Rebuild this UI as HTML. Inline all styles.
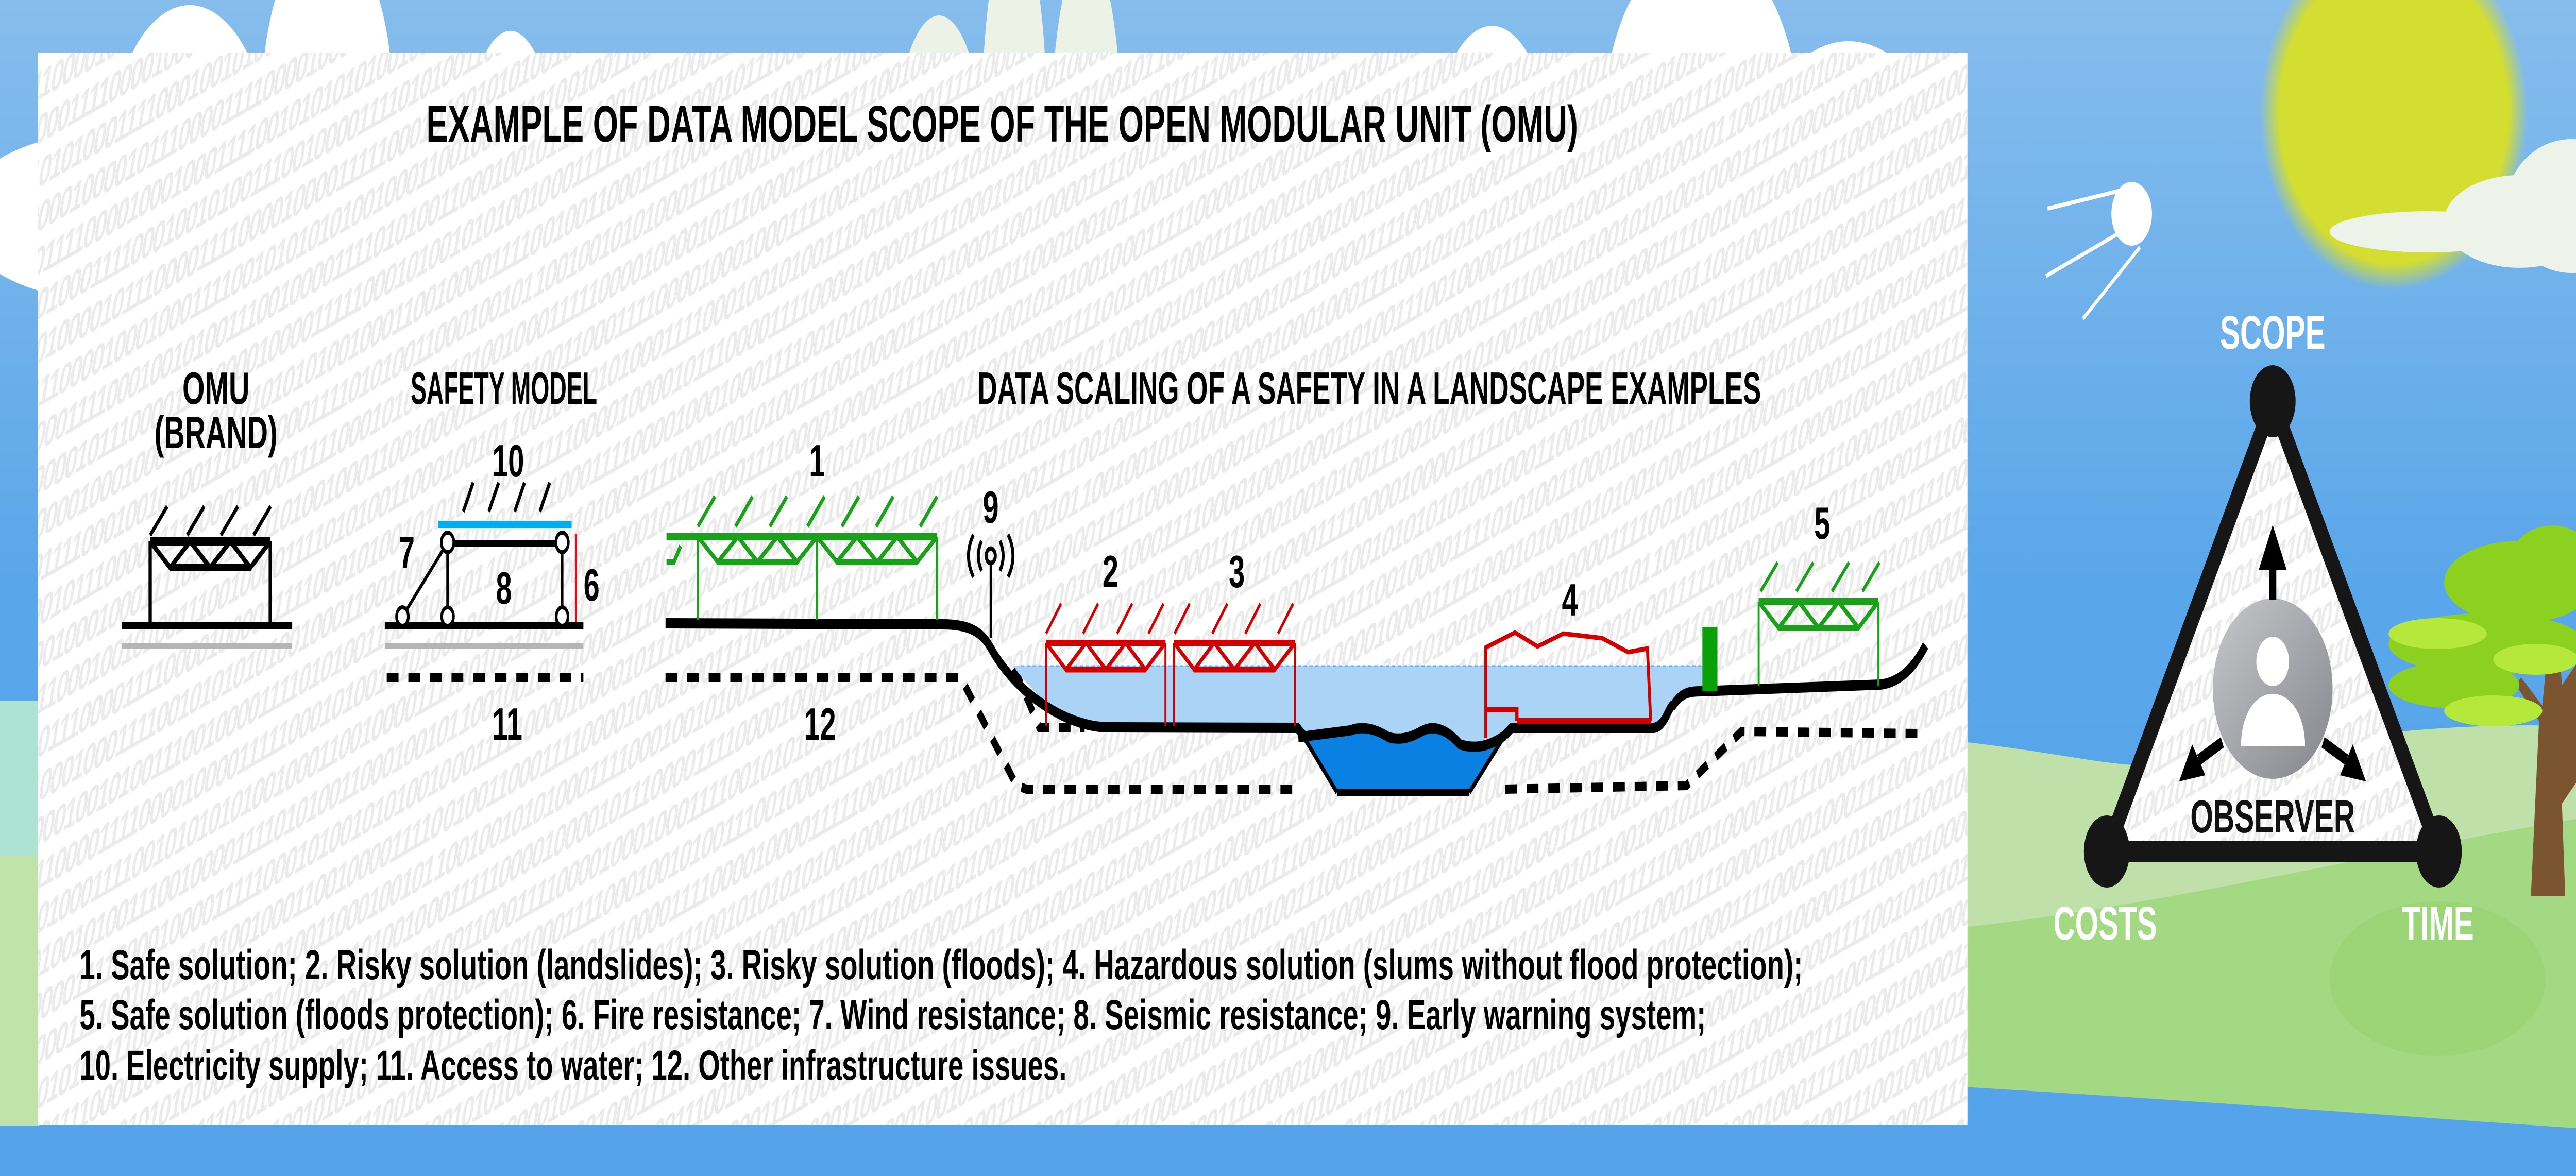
<!DOCTYPE html>
<html><head><meta charset="utf-8"><style>
html,body{margin:0;padding:0;width:100%;height:100%;overflow:hidden;background:#58a6ea}
svg{display:block;width:100vw;height:100vh}
text{font-family:"Liberation Sans",Arial,sans-serif;font-weight:bold}
</style></head><body>
<svg viewBox="0 0 7873 2283" preserveAspectRatio="none" xmlns="http://www.w3.org/2000/svg">
<defs>
<linearGradient id="sky" x1="0" y1="0" x2="0" y2="1">
<stop offset="0" stop-color="#86bdec"/><stop offset="0.5" stop-color="#5aa6ea"/><stop offset="1" stop-color="#55a3ea"/></linearGradient>
<radialGradient id="sun" cx="0.5" cy="0.5" r="0.5">
<stop offset="0.85" stop-color="#d4de30"/><stop offset="1" stop-color="#d4de30" stop-opacity="0"/></radialGradient>
<linearGradient id="obs" x1="0" y1="0" x2="1" y2="1">
<stop offset="0" stop-color="#c6c7cb"/><stop offset="1" stop-color="#85868b"/></linearGradient>
<pattern id="bin" width="2100" height="240" patternUnits="userSpaceOnUse" patternTransform="rotate(-20) skewX(-35)">
<g font-size="72" fill="#ebebeb" style="font-family:'Liberation Serif',serif;font-weight:normal">
<text x="0" y="62" textLength="2100">010011000111100001000100011110010101010100100011001000011110</text>
<text x="0" y="142" textLength="2100">100100101010001111000100101001110010000111101010011000100101</text>
<text x="0" y="222" textLength="2100">001111100001000010111000011110000100001111100010100101010010</text>
</g>
</pattern>
</defs>
<rect width="7873" height="2283" fill="url(#sky)"/>
<rect x="0" y="1360" width="120" height="300" fill="#ade3d3"/>
<rect x="0" y="1660" width="120" height="525" fill="#bfe3a8"/>
<g fill="#ffffff">
<ellipse cx="580" cy="330" rx="250" ry="320"/><ellipse cx="1000" cy="200" rx="200" ry="330"/><ellipse cx="1560" cy="330" rx="140" ry="270"/>
<ellipse cx="300" cy="420" rx="420" ry="160"/>
<ellipse cx="4560" cy="380" rx="200" ry="330"/><ellipse cx="5200" cy="250" rx="300" ry="360"/><ellipse cx="5650" cy="330" rx="280" ry="250"/>
</g>
<g fill="#ecf2e6">
<ellipse cx="2870" cy="330" rx="140" ry="300"/><ellipse cx="3100" cy="250" rx="100" ry="400"/><ellipse cx="3320" cy="300" rx="110" ry="400"/><ellipse cx="3580" cy="330" rx="100" ry="120"/>
</g>
<ellipse cx="7316" cy="218" rx="410" ry="345" fill="url(#sun)"/>
<g fill="#edf3e8"><ellipse cx="7420" cy="450" rx="300" ry="40"/><ellipse cx="7700" cy="430" rx="230" ry="90"/><ellipse cx="7860" cy="400" rx="200" ry="130"/></g>
<path d="M6000,1440 C6400,1470 6500,1500 6700,1480 C7100,1430 7500,1400 7873,1410 L7873,2283 L6000,2283 Z" fill="#bfe0a9"/>
<path d="M6000,1800 C6600,1760 7300,1650 7873,1590 L7873,2190 C7400,2170 6800,2140 6000,2110 Z" fill="#a3d982"/>
<path d="M6000,2110 C6800,2140 7400,2170 7873,2190 L7873,2283 L6000,2283 Z" fill="#55a3ea"/>
<ellipse cx="7450" cy="1900" rx="330" ry="150" fill="#96d272" opacity="0.6"/>
<path d="M7735,1740 L7760,1400 L7690,1330 L7705,1315 L7770,1370 L7790,1240 L7820,1240 L7830,1330 L7873,1290 L7873,1520 L7830,1560 L7840,1740 Z" fill="#7a5530"/>
<g fill="#8cd020"><ellipse cx="7600" cy="1250" rx="300" ry="60"/><ellipse cx="7700" cy="1130" rx="230" ry="80"/><ellipse cx="7500" cy="1330" rx="200" ry="45"/><ellipse cx="7800" cy="1080" rx="120" ry="60"/></g>
<g fill="#b4e83a"><ellipse cx="7450" cy="1230" rx="150" ry="30"/><ellipse cx="7750" cy="1280" rx="130" ry="30"/><ellipse cx="7620" cy="1380" rx="150" ry="30"/></g>
<g stroke="#fff" stroke-width="8" fill="none"><line x1="6258" y1="405" x2="6480" y2="370"/><line x1="6253" y1="536" x2="6470" y2="455"/><line x1="6366" y1="619" x2="6540" y2="480"/></g>
<ellipse cx="6515" cy="415" rx="62" ry="62" fill="#fff"/>
<rect x="115" y="102" width="5898" height="2082" fill="#fff"/>
<rect x="115" y="102" width="5898" height="2082" fill="url(#bin)"/>
<text x="1303" y="275" font-size="100" textLength="3520" lengthAdjust="spacingAndGlyphs">EXAMPLE OF DATA MODEL SCOPE OF THE OPEN MODULAR UNIT (OMU)</text>
<g font-size="88" text-anchor="middle">
<text x="660" y="784">OMU</text><text x="660" y="870">(BRAND)</text>
<text x="1540" y="784" textLength="570" lengthAdjust="spacingAndGlyphs">SAFETY MODEL</text>
<text x="4185" y="784" textLength="2395" lengthAdjust="spacingAndGlyphs">DATA SCALING OF A SAFETY IN A LANDSCAPE EXAMPLES</text>
<text x="1553" y="925">10</text><text x="1243" y="1103">7</text><text x="1540" y="1172">8</text><text x="1808" y="1166">6</text>
<text x="1550" y="1436">11</text><text x="2506" y="1436">12</text><text x="2497" y="925">1</text><text x="3028" y="1015">9</text>
<text x="3394" y="1140">2</text><text x="3780" y="1140">3</text><text x="4798" y="1195">4</text><text x="5569" y="1046">5</text>
</g>
<text x="4818" y="1362" font-size="64" text-anchor="middle">Slams</text>
<g stroke="#000" fill="none" stroke-linecap="butt">
<g stroke-width="9"><line x1="459" y1="1039" x2="511" y2="983"/><line x1="572" y1="1039" x2="624" y2="983"/><line x1="675" y1="1039" x2="727" y2="983"/><line x1="775" y1="1039" x2="827" y2="983"/></g>
<line x1="459" y1="1051" x2="826" y2="1051" stroke-width="16"/>
<line x1="520" y1="1102" x2="765" y2="1102" stroke-width="14"/>
<polyline points="459,1051 520,1102 581,1051 642,1102 704,1051 765,1102 826,1051" stroke-width="11"/>
<line x1="459" y1="1051" x2="459" y2="1214" stroke-width="10"/><line x1="826" y1="1051" x2="826" y2="1214" stroke-width="10"/>
<line x1="373" y1="1214" x2="893" y2="1214" stroke-width="14"/>
</g>
<line x1="373" y1="1254" x2="893" y2="1254" stroke="#b5b5b5" stroke-width="10"/>
<g stroke="#000" fill="none">
<g stroke-width="9"><line x1="1416" y1="993" x2="1446" y2="937"/><line x1="1494" y1="993" x2="1524" y2="937"/><line x1="1573" y1="993" x2="1603" y2="937"/><line x1="1650" y1="993" x2="1680" y2="937"/></g>
<line x1="1368" y1="1055" x2="1718" y2="1055" stroke-width="12"/>
<line x1="1368" y1="1053" x2="1368" y2="1197" stroke-width="8"/><line x1="1718" y1="1053" x2="1718" y2="1197" stroke-width="8"/>
<line x1="1368" y1="1053" x2="1230" y2="1197" stroke-width="8"/>
<line x1="1176" y1="1214" x2="1783" y2="1214" stroke-width="14"/>
<g fill="#fff" stroke-width="8"><circle cx="1368" cy="1053" r="19"/><circle cx="1718" cy="1053" r="19"/><circle cx="1230" cy="1197" r="18"/><circle cx="1368" cy="1197" r="18"/><circle cx="1718" cy="1197" r="18"/></g>
</g>
<line x1="1339" y1="1018" x2="1747" y2="1018" stroke="#00adef" stroke-width="14"/>
<line x1="1760" y1="1036" x2="1760" y2="1208" stroke="#e0101a" stroke-width="6"/>
<line x1="1176" y1="1254" x2="1783" y2="1254" stroke="#b5b5b5" stroke-width="10"/>
<g stroke="#000" stroke-width="18" fill="none" stroke-dasharray="36 30">
<line x1="1182" y1="1315" x2="1783" y2="1315"/>
<polyline points="2034,1315 2936,1315 3107,1525 3137,1532 3968,1532"/>
<polyline points="4600,1532 5154,1525 5322,1420 5866,1424"/>
<polyline points="3100,1297 3177,1413 3315,1413"/>
</g>
<path d="M3097,1293 L5203,1293 L5203,1342 C5150,1350 5120,1360 5114,1369 L5055,1413 L4620,1413 L4600,1427 Q4530,1460 4462,1445 Q4400,1400 4343,1420 Q4290,1440 4244,1431 Q4180,1405 4126,1418 Q4040,1425 3968,1431 L3958,1413 L3384,1412 C3250,1410 3150,1340 3097,1293 Z" fill="#aad3f5"/>
<line x1="3120" y1="1293" x2="5200" y2="1293" stroke="#6aaef0" stroke-width="3" stroke-dasharray="10 8"/>
<path d="M3975,1430 Q4040,1425 4126,1418 Q4180,1405 4244,1431 Q4290,1440 4343,1420 Q4400,1400 4462,1445 Q4530,1460 4600,1427 L4491,1538 L4086,1538 Z" fill="#0a80e2"/>
<line x1="4086" y1="1538" x2="4491" y2="1538" stroke="#000" stroke-width="14"/>
<path d="M3968,1431 Q4040,1425 4126,1418 Q4180,1405 4244,1431 Q4290,1440 4343,1420 Q4400,1400 4462,1445 Q4530,1460 4600,1427" stroke="#000" stroke-width="20" fill="none"/>
<path d="M2034,1210 L2880,1212 C2960,1212 3000,1225 3030,1260 C3100,1340 3250,1410 3384,1412 L3965,1413 L3990,1432 M4600,1427 L4620,1413 L5055,1413 C5090,1410 5100,1370 5114,1369 C5140,1345 5160,1342 5203,1342 L5747,1329 C5800,1325 5846,1302 5885,1253" stroke="#000" stroke-width="20" fill="none"/>
<line x1="3968" y1="1413" x2="4086" y2="1538" stroke="#000" stroke-width="10"/>
<line x1="4600" y1="1427" x2="4491" y2="1538" stroke="#000" stroke-width="10"/>
<g stroke="#000" stroke-width="9" fill="none">
<line x1="3028" y1="1095" x2="3028" y2="1239" stroke-width="7"/>
<circle cx="3028" cy="1079" r="14"/>
<path d="M3000,1050 Q2980,1079 3000,1108"/><path d="M3056,1050 Q3076,1079 3056,1108"/>
<path d="M2975,1038 Q2945,1079 2975,1120"/><path d="M3081,1038 Q3111,1079 3081,1120"/>
</g>
<g stroke="#1aa01a" fill="none">
<g stroke-width="9"><line x1="2133" y1="1022" x2="2185" y2="964"/><line x1="2248" y1="1022" x2="2300" y2="964"/><line x1="2353" y1="1022" x2="2405" y2="964"/><line x1="2468" y1="1022" x2="2520" y2="964"/><line x1="2573" y1="1022" x2="2625" y2="964"/><line x1="2678" y1="1022" x2="2730" y2="964"/><line x1="2812" y1="1022" x2="2864" y2="964"/></g>
<line x1="2037" y1="1042" x2="2864" y2="1042" stroke-width="14"/>
<line x1="2194" y1="1091" x2="2436" y2="1091" stroke-width="12"/><line x1="2558" y1="1091" x2="2803" y2="1091" stroke-width="12"/>
<polyline points="2133,1042 2194,1091 2255,1042 2315,1091 2376,1042 2436,1091 2497,1042 2558,1091 2619,1042 2681,1091 2742,1042 2803,1091 2864,1042" stroke-width="10"/>
<polyline points="2037,1091 2060,1091 2080,1060" stroke-width="10"/>
<g stroke-width="7"><line x1="2133" y1="1042" x2="2133" y2="1203"/><line x1="2497" y1="1042" x2="2497" y2="1203"/><line x1="2864" y1="1042" x2="2864" y2="1203"/></g>
</g>
<g stroke="#d00000" fill="none">
<g stroke-width="7"><line x1="3197" y1="1230" x2="3243" y2="1172"/><line x1="3310" y1="1230" x2="3356" y2="1172"/><line x1="3414" y1="1230" x2="3460" y2="1172"/><line x1="3510" y1="1230" x2="3556" y2="1172"/>
<line x1="3590" y1="1230" x2="3636" y2="1172"/><line x1="3705" y1="1230" x2="3751" y2="1172"/><line x1="3806" y1="1230" x2="3852" y2="1172"/><line x1="3906" y1="1230" x2="3952" y2="1172"/></g>
<line x1="3197" y1="1248" x2="3562" y2="1248" stroke-width="12"/><line x1="3588" y1="1248" x2="3958" y2="1248" stroke-width="12"/>
<line x1="3258" y1="1300" x2="3501" y2="1300" stroke-width="11"/><line x1="3650" y1="1300" x2="3896" y2="1300" stroke-width="11"/>
<polyline points="3197,1248 3258,1300 3319,1248 3380,1300 3440,1248 3501,1300 3562,1248" stroke-width="9"/>
<polyline points="3588,1248 3650,1300 3711,1248 3773,1300 3835,1248 3896,1300 3958,1248" stroke-width="9"/>
<g stroke-width="6"><line x1="3197" y1="1248" x2="3197" y2="1409"/><line x1="3562" y1="1248" x2="3562" y2="1409"/><line x1="3588" y1="1248" x2="3588" y2="1409"/><line x1="3958" y1="1248" x2="3958" y2="1409"/></g>
<polyline points="4541,1433 4541,1257 4630,1228 4699,1255 4778,1230 4897,1239 4976,1266 5035,1259 5045,1400" stroke-width="9"/>
<line x1="4636" y1="1400" x2="5045" y2="1400" stroke-width="12"/>
<polyline points="4541,1378 4636,1378 4636,1400" stroke-width="10"/>
</g>
<rect x="5203" y="1217" width="46" height="125" fill="#0aa00a"/>
<g stroke="#1aa01a" fill="none">
<g stroke-width="8"><line x1="5381" y1="1148" x2="5433" y2="1092"/><line x1="5490" y1="1148" x2="5542" y2="1092"/><line x1="5599" y1="1148" x2="5651" y2="1092"/><line x1="5692" y1="1148" x2="5744" y2="1092"/></g>
<line x1="5375" y1="1168" x2="5741" y2="1168" stroke-width="14"/>
<line x1="5436" y1="1219" x2="5680" y2="1219" stroke-width="12"/>
<polyline points="5375,1168 5436,1219 5497,1168 5558,1219 5619,1168 5680,1219 5741,1168" stroke-width="10"/>
<line x1="5375" y1="1168" x2="5375" y2="1331" stroke-width="6"/><line x1="5741" y1="1168" x2="5741" y2="1331" stroke-width="6"/>
</g>
<g font-size="82">
<text x="243" y="1901" textLength="5267" lengthAdjust="spacingAndGlyphs">1. Safe solution; 2. Risky solution (landslides); 3. Risky solution (floods); 4. Hazardous solution (slums without flood protection);</text>
<text x="243" y="1998" textLength="4971" lengthAdjust="spacingAndGlyphs">5. Safe solution (floods protection); 6. Fire resistance; 7. Wind resistance; 8. Seismic resistance; 9. Early warning system;</text>
<text x="243" y="2096" textLength="3017" lengthAdjust="spacingAndGlyphs">10. Electricity supply; 11. Access to water; 12. Other infrastructure issues.</text>
</g>
<polygon points="6946,779 6439,1653 7454,1653" fill="#fff"/>
<polygon points="6946,779 6439,1653 7454,1653" fill="url(#bin)"/>
<polygon points="6946,779 6439,1653 7454,1653" fill="none" stroke="#161616" stroke-width="40" stroke-linejoin="round"/>
<g fill="#161616"><circle cx="6946" cy="779" r="70"/><circle cx="6439" cy="1653" r="70"/><circle cx="7454" cy="1653" r="70"/></g>
<ellipse cx="6946" cy="1337" rx="183" ry="175" fill="url(#obs)"/>
<ellipse cx="6946" cy="1284" rx="50" ry="48" fill="#fff"/>
<path d="M6849,1449 C6849,1390 6890,1347 6946,1347 C7002,1347 7045,1390 7045,1449 Z" fill="#fff"/>
<g fill="#000" stroke="#000">
<line x1="6946" y1="1100" x2="6946" y2="1165" stroke-width="22"/>
<polygon points="6946,1019 6903,1107 6989,1107" stroke="none"/>
<line x1="6792" y1="1441" x2="6720" y2="1475" stroke-width="22"/>
<polygon points="6660,1517 6700,1445 6740,1505" stroke="none"/>
<line x1="7100" y1="1441" x2="7172" y2="1475" stroke-width="22"/>
<polygon points="7231,1517 7191,1445 7152,1505" stroke="none"/>
</g>
<text x="6946" y="1616" font-size="90" text-anchor="middle" fill="#111">OBSERVER</text>
<g font-size="92" fill="#fff" text-anchor="middle">
<text x="6946" y="677">SCOPE</text><text x="6434" y="1824">COSTS</text><text x="7451" y="1824">TIME</text>
</g>
</svg>
</body></html>
